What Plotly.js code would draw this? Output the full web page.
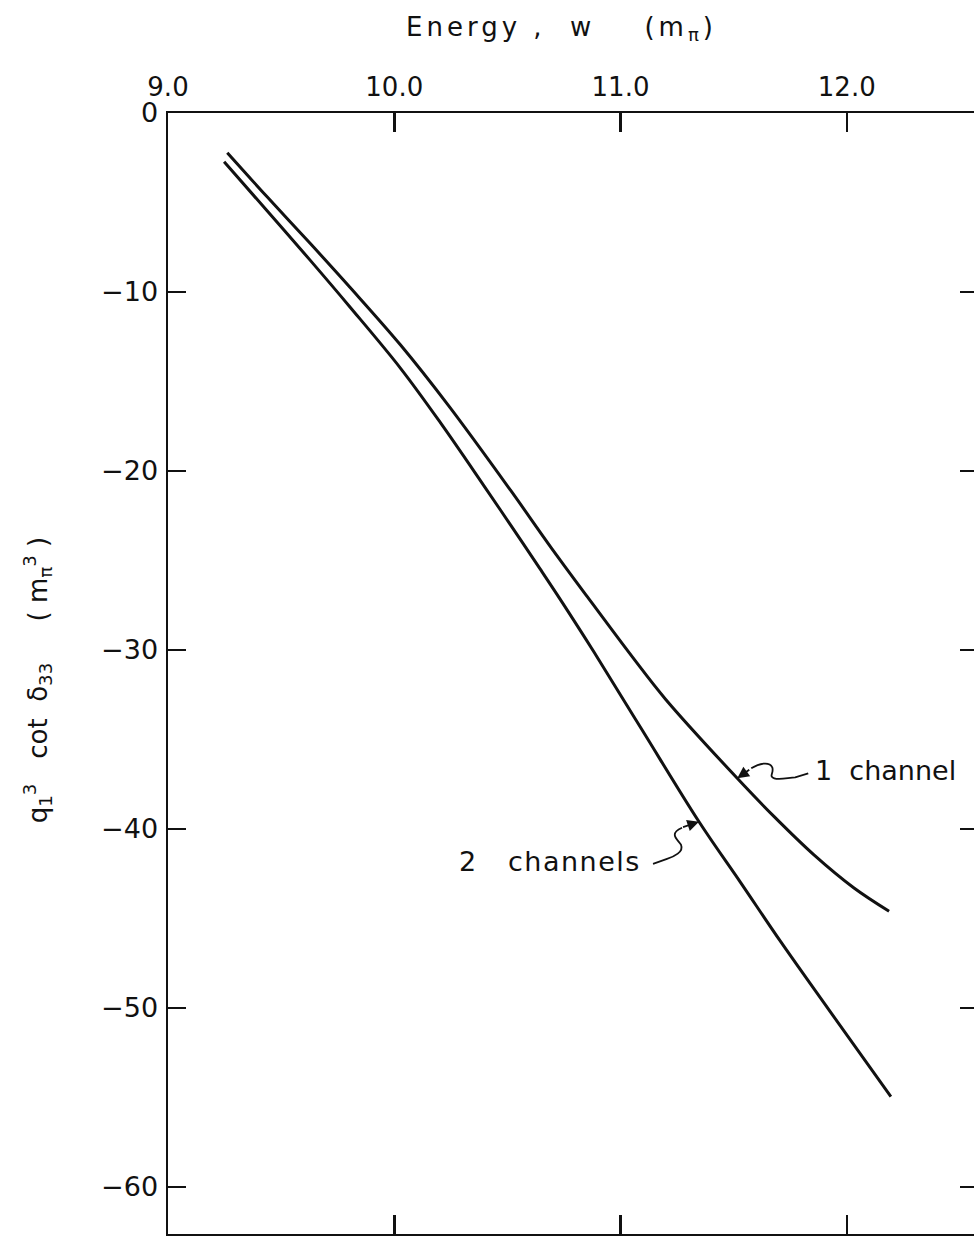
<!DOCTYPE html>
<html>
<head>
<meta charset="utf-8">
<script src="https://cdn.plot.ly/plotly-3.0.1.min.js"></script>
<style>
html,body{margin:0;padding:0;background:#fff;overflow:hidden;width:974px;height:1236px;}
#chart{width:978px;height:1236px;}
</style>
</head>
<body>
<div id="chart"></div>
<script>
// Energy w (m_pi) and q1^3 cot delta33 (m_pi^3)
const energyOne = [9.262, 9.437, 9.628, 9.805, 10.027, 10.240, 10.513, 10.690, 10.853, 11.059, 11.199, 11.516, 11.678, 11.855, 12.032, 12.187];
const valueOne  = [-2.22, -4.67, -7.28, -9.75, -12.95, -16.35, -21.06, -24.22, -27.02, -30.50, -32.75, -37.17, -39.30, -41.45, -43.30, -44.60];

const energyTwo = [9.248, 9.437, 9.628, 9.805, 10.027, 10.204, 10.395, 10.513, 10.646, 10.735, 10.882, 11.097, 11.347, 11.531, 11.708, 11.915, 12.195];
const valueTwo  = [-2.72, -5.45, -8.22, -10.85, -14.25, -17.30, -20.80, -23.00, -25.50, -27.20, -30.10, -34.50, -39.60, -43.00, -46.30, -50.00, -54.95];

const seriesNames = ["1&nbsp; channel", "2 &nbsp; channels"];
const xTickVals = [9, 10, 11, 12];
const xTickText = ["9.0", "10.0", "11.0", "12.0"];
const yTickVals = [0, -10, -20, -30, -40, -50, -60];
const yTickText = ["0", "−10", "−20", "−30", "−40", "−50", "−60"];

// label arrow tips sit on the curves
const tipOne = {x: energyOne[11], y: valueOne[11]};
const tipTwo = {x: energyTwo[12], y: valueTwo[12]};

const FONT = "DejaVu Sans, Noto Sans, sans-serif";
const INK = "#111";

const lineStyle = {color: INK, width: 3, shape: "spline", smoothing: 1};

const traces = [
  {x: energyOne, y: valueOne, name: "1 channel", mode: "lines", line: lineStyle, hoverinfo: "skip"},
  {x: energyTwo, y: valueTwo, name: "2 channels", mode: "lines", line: lineStyle, hoverinfo: "skip"}
];

const arrowBase = {showarrow: true, arrowhead: 2, arrowsize: 1.3, arrowwidth: 1.8, arrowcolor: INK,
  standoff: 0, text: " ", font: {size: 2, color: INK}};

const layout = {
  width: 978, height: 1236,
  margin: {l: 168, r: 0, t: 113, b: 2},
  paper_bgcolor: "#fff", plot_bgcolor: "#fff",
  showlegend: false,
  font: {family: FONT, color: INK, size: 25},
  xaxis: {
    side: "top", range: [9.0, 12.58], tickvals: xTickVals, ticktext: xTickText,
    ticks: "inside", ticklen: 19, tickwidth: 2.5, tickcolor: INK,
    showline: true, linewidth: 2.5, linecolor: INK, mirror: "ticks",
    showgrid: false, zeroline: false, ticklabelstandoff: 4,
    tickfont: {family: FONT, size: 26, color: INK}
  },
  yaxis: {
    range: [-62.63, 0], tickvals: yTickVals, ticktext: yTickText,
    ticks: "inside", ticklen: 18, tickwidth: 2.5, tickcolor: INK,
    showline: true, linewidth: 2.5, linecolor: INK, mirror: "ticks",
    showgrid: false, zeroline: false, ticklabelstandoff: 2,
    tickfont: {family: FONT, size: 27, color: INK}
  },
  annotations: [
    {xref: "paper", yref: "paper", x: 0.4864, y: 1, yshift: 85, xanchor: "center", yanchor: "middle",
     showarrow: false,
     text: "Energy , &nbsp;w &nbsp;&nbsp;&nbsp;(m<sub>π</sub>)",
     font: {family: FONT, size: 26, color: INK}},
    {xref: "paper", yref: "paper", x: 0, xshift: -131, y: 0.494, xanchor: "center", yanchor: "middle",
     textangle: -90, showarrow: false,
     text: "q<sub>1</sub><sup>3</sup>&nbsp;&nbsp;&nbsp;cot&nbsp;&nbsp;δ<sub>33</sub>&nbsp;&nbsp;&nbsp;&nbsp;&nbsp;( m<sub>π</sub><sup>3</sup> )",
     font: {family: FONT, size: 26, color: INK}},
    {x: 11.850, y: -36.76, xanchor: "left", yanchor: "middle", showarrow: false,
     text: seriesNames[0], font: {family: FONT, size: 27, color: INK}},
    {x: 10.319, y: -41.84, xanchor: "left", yanchor: "middle", showarrow: false,
     text: seriesNames[1], font: {family: FONT, size: 27, color: INK}},
    Object.assign({x: tipOne.x, y: tipOne.y, ax: 14, ay: -10}, arrowBase),
    Object.assign({x: tipTwo.x, y: tipTwo.y, ax: -18, ay: 6}, arrowBase)
  ],
  shapes: [
    {type: "path", xref: "x", yref: "y", xsizemode: "pixel", ysizemode: "pixel",
     xanchor: tipOne.x, yanchor: tipOne.y,
     path: "M 14,10 C 22,15 32,17 35,11 C 37,5 31,2 37,0 C 43,-2 52,1 58,1 L 71,5",
     line: {color: INK, width: 1.8}},
    {type: "path", xref: "x", yref: "y", xsizemode: "pixel", ysizemode: "pixel",
     xanchor: tipTwo.x, yanchor: tipTwo.y,
     path: "M -17,-6 C -31,-12 -21,-18 -18,-23 C -15,-30 -25,-35 -32,-37 L -46,-42",
     line: {color: INK, width: 1.8}}
  ]
};

Plotly.newPlot("chart", traces, layout, {staticPlot: true, displayModeBar: false}).then(function () {
  // hand-lettered look: wider letter spacing on some labels
  const spacing = [4, 0, 0, 1.5, 0, 0];
  document.querySelectorAll("#chart .annotation").forEach(function (g, i) {
    const t = g.querySelector("text");
    if (t && spacing[i]) t.style.letterSpacing = spacing[i] + "px";
  });
});
</script>
</body>
</html>
